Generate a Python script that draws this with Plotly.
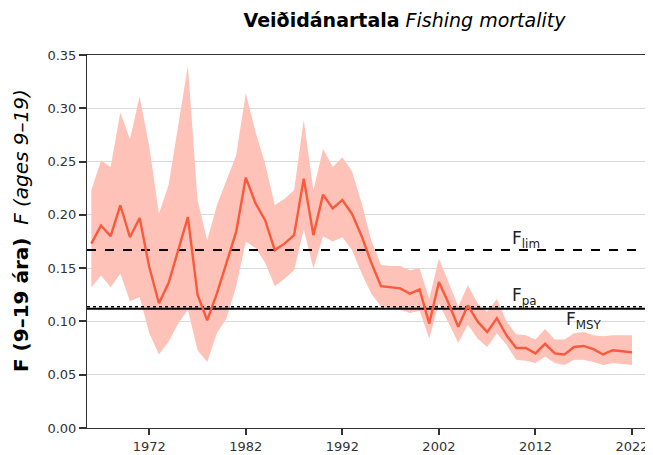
import plotly.graph_objects as go

years = list(range(1966, 2023))

f_est = [0.173, 0.190, 0.180, 0.209, 0.179, 0.197, 0.151, 0.117, 0.136, 0.167,
         0.198, 0.125, 0.101, 0.126, 0.155, 0.184, 0.235, 0.211, 0.195, 0.167,
         0.173, 0.181, 0.234, 0.181, 0.219, 0.206, 0.214, 0.201, 0.180, 0.155,
         0.133, 0.132, 0.131, 0.126, 0.130, 0.098, 0.137, 0.117, 0.095, 0.115,
         0.100, 0.090, 0.103, 0.087, 0.075, 0.075, 0.070, 0.079, 0.070, 0.069,
         0.076, 0.077, 0.074, 0.069, 0.073, 0.072, 0.071]

f_upper = [0.223, 0.251, 0.245, 0.296, 0.271, 0.311, 0.264, 0.201, 0.228, 0.286,
           0.340, 0.214, 0.176, 0.209, 0.233, 0.256, 0.314, 0.278, 0.248, 0.209,
           0.215, 0.223, 0.289, 0.223, 0.262, 0.245, 0.254, 0.241, 0.211, 0.176,
           0.153, 0.152, 0.152, 0.148, 0.150, 0.121, 0.159, 0.137, 0.114, 0.134,
           0.117, 0.109, 0.121, 0.100, 0.088, 0.087, 0.083, 0.093, 0.083, 0.083,
           0.089, 0.090, 0.087, 0.086, 0.087, 0.087, 0.087]

f_lower = [0.132, 0.143, 0.132, 0.145, 0.119, 0.123, 0.089, 0.069, 0.081, 0.098,
           0.111, 0.073, 0.062, 0.089, 0.103, 0.133, 0.175, 0.169, 0.155, 0.133,
           0.140, 0.148, 0.186, 0.150, 0.180, 0.175, 0.179, 0.167, 0.145, 0.126,
           0.114, 0.113, 0.111, 0.108, 0.110, 0.084, 0.117, 0.098, 0.080, 0.097,
           0.084, 0.076, 0.089, 0.078, 0.064, 0.063, 0.061, 0.067, 0.061, 0.059,
           0.064, 0.064, 0.062, 0.059, 0.061, 0.060, 0.059]

f_lim = 0.167
f_pa = 0.1138
f_msy = 0.112

x_ticks = [1972, 1982, 1992, 2002, 2012, 2022]
y_ticks = [0.00, 0.05, 0.10, 0.15, 0.20, 0.25, 0.30, 0.35]

FONT = "DejaVu Sans, Liberation Sans, sans-serif"
x_range = [1965.55, 2023.45]

fig = go.Figure()

# confidence band
fig.add_trace(go.Scatter(x=years, y=f_upper, mode="lines", line=dict(width=0),
                         showlegend=False, hoverinfo="skip"))
fig.add_trace(go.Scatter(x=years, y=f_lower, mode="lines", line=dict(width=0),
                         fill="tonexty", fillcolor="#ffc2b8",
                         showlegend=False, hoverinfo="skip"))

# reference points
fig.add_trace(go.Scatter(x=x_range, y=[f_lim, f_lim], mode="lines",
                         line=dict(color="black", width=2, dash="dash"), showlegend=False))
fig.add_trace(go.Scatter(x=x_range, y=[f_msy, f_msy], mode="lines",
                         line=dict(color="black", width=2), showlegend=False))
fig.add_trace(go.Scatter(x=x_range, y=[f_pa, f_pa], mode="lines",
                         line=dict(color="black", width=1.5, dash="dot"), showlegend=False))

fig.add_trace(go.Scatter(x=years, y=f_est, mode="lines",
                         line=dict(color="#fa5a3c", width=2.4), showlegend=False))

fig.add_annotation(x=2009.4, y=f_lim, text="F<sub>lim</sub>", showarrow=False,
                   xanchor="left", yanchor="bottom", yshift=-3,
                   font=dict(size=17, color="#222"))
fig.add_annotation(x=2009.4, y=f_pa, text="F<sub>pa</sub>", showarrow=False,
                   xanchor="left", yanchor="bottom", yshift=-3,
                   font=dict(size=17, color="#222"))
fig.add_annotation(x=2015.0, y=f_msy, text="F<sub>MSY</sub>", showarrow=False,
                   xanchor="left", yanchor="top", yshift=2,
                   font=dict(size=17, color="#222"))

# y axis title
fig.add_annotation(x=0, y=0.528, xref="paper", yref="paper", xshift=-66,
                   text="<b>F (9–19 ára)</b>  <i>F (ages 9–19)</i>",
                   textangle=-90, showarrow=False, xanchor="center", yanchor="middle",
                   font=dict(size=20, color="black"))

# the page body adds an 8px margin, so the figure is 8px smaller than the window
fig.update_layout(
    width=645, height=447,
    margin=dict(l=79, r=7, t=47, b=27),
    paper_bgcolor="white", plot_bgcolor="white",
    font=dict(family=FONT, size=13, color="#333"),
    title=dict(text="<b>Veiðidánartala</b> <i>Fishing mortality</i>",
               x=0.568, xref="paper", xanchor="center", y=0.973, yanchor="middle",
               font=dict(size=19, color="black")),
)

fig.update_xaxes(range=x_range, tickvals=x_ticks, ticks="outside",
                 ticklen=6, tickwidth=2, tickcolor="#333", showgrid=False,
                 showline=True, linecolor="#333", linewidth=1, mirror=True,
                 zeroline=False, automargin=False,
                 tickfont=dict(size=13, color="#333"))
fig.update_yaxes(range=[0, 0.35], tickvals=y_ticks, tickformat=".2f",
                 ticks="outside", ticklen=7, tickwidth=2, tickcolor="#333",
                 showgrid=True, gridcolor="#d9d9d9", gridwidth=1,
                 showline=True, linecolor="#333", linewidth=1, mirror=True,
                 zeroline=False, automargin=False,
                 tickfont=dict(size=13, color="#333"))

fig.write_html("out.html")
